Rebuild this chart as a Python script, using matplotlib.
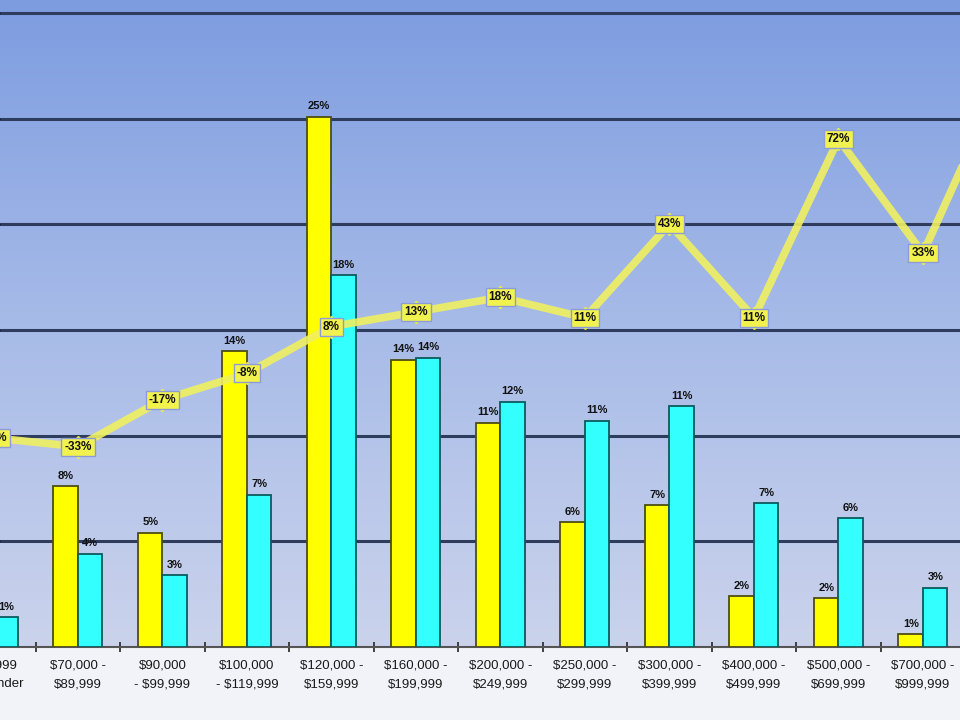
import matplotlib
matplotlib.use("Agg")
import matplotlib.pyplot as plt
import numpy as np
from matplotlib.colors import LinearSegmentedColormap

# price bands (first and last are cut off at the frame edges)
categories = [
    "$69,999\nand under", "$70,000 -\n$89,999", "$90,000\n- $99,999",
    "$100,000\n- $119,999", "$120,000 -\n$159,999", "$160,000 -\n$199,999",
    "$200,000 -\n$249,999", "$250,000 -\n$299,999", "$300,000 -\n$399,999",
    "$400,000 -\n$499,999", "$500,000 -\n$699,999", "$700,000 -\n$999,999",
    "$1,000,000\nand over",
]
yellow_pct = [np.nan, 7.6, 5.4, 14.0, 25.1, 13.6, 10.6, 5.9, 6.7, 2.4, 2.3, 0.6, np.nan]
cyan_pct = [1.4, 4.4, 3.4, 7.2, 17.6, 13.7, 11.6, 10.7, 11.4, 6.8, 6.1, 2.8, np.nan]
change_pct = [-30, -33, -17, -8, 8, 13, 18, 11, 43, 11, 72, 33, 97]

YELLOW, YELLOW_EDGE = "#ffff00", "#4d4d12"
CYAN, CYAN_EDGE = "#33ffff", "#0b5a5e"
LINE = "#f0f060"
GRID = "#2e3c5e"
X_MIN, X_MAX = 0.077, 11.438

plt.rcParams["font.family"] = ["Liberation Sans", "DejaVu Sans"]

fig = plt.figure(figsize=(9.6, 7.2), dpi=100, facecolor="#f1f3f8")
ax = fig.add_axes([0, 73 / 720, 1, 647 / 720])

# gradient plot background
grad = LinearSegmentedColormap.from_list("bg", ["#cbd3ec", "#a7bbe8", "#7d9ce0"])
ax.imshow(np.linspace(0, 1, 256).reshape(-1, 1), cmap=grad, origin="lower",
          extent=[0, 1, 0, 1], transform=ax.transAxes, aspect="auto", zorder=0)

x = np.arange(len(categories))
w = 0.29
ax.bar(x - w / 2, yellow_pct, w, color=YELLOW, edgecolor=YELLOW_EDGE, linewidth=1.3, zorder=3)
ax.bar(x + w / 2, cyan_pct, w, color=CYAN, edgecolor=CYAN_EDGE, linewidth=1.3, zorder=3)

for i, (yv, cv) in enumerate(zip(yellow_pct, cyan_pct)):
    if not np.isnan(yv):
        ax.annotate(f"{yv:.0f}%", (i - w / 2, yv), xytext=(0, 4), textcoords="offset points",
                    ha="center", va="bottom", fontsize=8, fontweight="bold", color="#111", zorder=4)
    if not np.isnan(cv):
        ax.annotate(f"{cv:.0f}%", (i + w / 2, cv), xytext=(0, 4), textcoords="offset points",
                    ha="center", va="bottom", fontsize=8, fontweight="bold", color="#111", zorder=4)

ax.set_ylim(0, 30.62)
ax.set_yticks(np.arange(5, 31, 5))
ax.yaxis.grid(True, color=GRID, linewidth=2.2)
ax.set_axisbelow(True)
ax.tick_params(axis="y", left=False, labelleft=False)

# category labels drawn as annotations so the cut-off ones still show partly
ax.set_xticks(x)
ax.tick_params(axis="x", which="major", length=0, labelbottom=False)
for i, lab in enumerate(categories):
    ax.annotate(lab, (i, 0), xycoords=("data", "axes fraction"), xytext=(0, -9),
                textcoords="offset points", ha="center", va="top", fontsize=9.5,
                color="#1a1a1a", linespacing=1.75, annotation_clip=False)
ax.set_xticks(x[:-1] + 0.5, minor=True)
ax.tick_params(axis="x", which="minor", length=7, width=1.3, direction="inout", color="#333")
for side in ["top", "right", "left"]:
    ax.spines[side].set_visible(False)
ax.spines["bottom"].set_color("#555")
ax.spines["bottom"].set_linewidth(1.5)

# year-over-year change line on its own scale
ax2 = ax.twinx()
for side in ax2.spines:
    ax2.spines[side].set_visible(False)
ax2.plot(x, change_pct, color=LINE, linewidth=5.5, alpha=0.9, marker="D", markersize=11,
         markerfacecolor="#f6f63a", markeredgecolor="#f6f63a", zorder=5)
for i, v in enumerate(change_pct):
    ax2.text(i, v, f"{v}%", ha="center", va="center", fontsize=8.5, fontweight="bold", color="#111",
             zorder=6, bbox=dict(boxstyle="square,pad=0.25", fc="#f2f24e", ec="#8d9cd8", lw=1))
ax2.set_ylim(-101.4, 119.5)
ax2.set_yticks([])

# frame is cropped: part of the first and last band fall outside
ax.set_xlim(X_MIN, X_MAX)

fig.savefig("out.png", dpi=100, facecolor=fig.get_facecolor())
